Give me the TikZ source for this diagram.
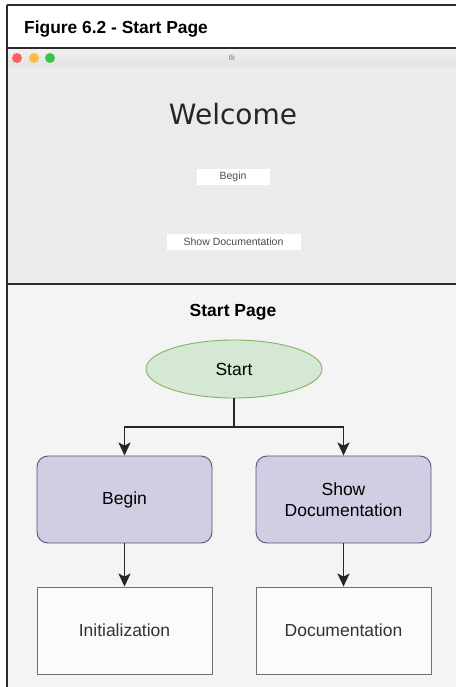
\documentclass[tikz,border=0pt]{standalone}
\usepackage{fontspec}
\setmainfont{Liberation Sans}
\newfontfamily\tkfont{DejaVu Sans}
\usetikzlibrary{shapes.geometric,arrows.meta}
\definecolor{frameline}{HTML}{2B2B2B}
\definecolor{winbg}{HTML}{EBEBEB}
\definecolor{lowbg}{HTML}{F4F4F4}
\definecolor{startfill}{HTML}{D5E8D4}
\definecolor{startdraw}{HTML}{82B366}
\definecolor{procfill}{HTML}{D0CEE2}
\definecolor{procdraw}{HTML}{56517E}
\definecolor{plaindraw}{HTML}{707070}
\tikzset{
  px/.style={x=1pt,y=-1pt},
  btn/.style={draw=white!85!gray,fill=white,line width=0.4pt,inner sep=0pt,font=\fontsize{10.5}{12}\selectfont,text=black!70},
  startnode/.style={ellipse,draw=startdraw,fill=startfill,line width=0.9pt,minimum width=176pt,minimum height=58pt,inner sep=0pt,font=\fontsize{17.5}{21}\selectfont},
  procnode/.style={rectangle,rounded corners=11pt,draw=procdraw,fill=procfill,line width=0.9pt,minimum width=175pt,minimum height=87pt,align=center,font=\fontsize{17.5}{21}\selectfont},
  plainnode/.style={rectangle,draw=plaindraw,fill=lowbg!40!white,line width=0.9pt,minimum width=175pt,minimum height=87pt,font=\fontsize{17.5}{21}\selectfont,text=black!80},
  conn/.style={line width=1.8pt,draw=black!85},
  arr/.style={conn,-{Stealth[length=13pt,width=12pt,inset=3pt]}},
  light/.style={circle,inner sep=0pt,minimum size=10pt}
}
\begin{document}
\begin{tikzpicture}[px]
\useasboundingbox (0,0) rectangle (455,687);
% backgrounds
\fill[white] (0,0) rectangle (455,687);
\fill[white] (7,5) rectangle (460,48);
% window title bar
\shade[top color=white!88!gray,bottom color=white!78!gray] (7,49) rectangle (460,67);
\fill[winbg] (7,67) rectangle (460,283);
\fill[lowbg] (7,284) rectangle (460,687);
% frame lines
\draw[frameline,line width=1.6pt] (7,5) -- (460,5);
\draw[frameline,line width=2pt] (7,48.5) -- (460,48.5);
\draw[frameline,line width=2pt] (7,283.5) -- (460,283.5);
\draw[frameline,line width=1.6pt] (7,5) -- (7,687);
% title
\node[anchor=west,inner sep=0pt,font=\bfseries\fontsize{17.4}{20}\selectfont] (title) at (24,29) {Figure 6.2 - Start Page};
% traffic lights
\node[light,fill={rgb,255:red,252;green,96;blue,92}] (red) at (17,58) {};
\node[light,fill={rgb,255:red,253;green,188;blue,64}] (yellow) at (34,58) {};
\node[light,fill={rgb,255:red,52;green,200;blue,74}] (green) at (50,58) {};
\node[font=\fontsize{8}{9}\selectfont,text=black!50] (tk) at (232,58) {tk};
% window contents
\node[font=\tkfont\fontsize{28}{31}\selectfont,text=black!85] (welcome) at (233,114) {Welcome};
\node[btn,minimum width=74pt,minimum height=17pt] (bbegin) at (233,177) {Begin};
\node[btn,minimum width=135pt,minimum height=17pt] (bdoc) at (233.5,242) {Show Documentation};
% diagram
\node[font=\bfseries\fontsize{17.5}{21}\selectfont] (sp) at (233,312) {Start Page};
\node[startnode] (start) at (234,369) {Start};
\node[procnode] (begin) at (124.5,499.5) {Begin};
\node[procnode] (show) at (343.5,499.5) {Show\\Documentation};
\node[plainnode] (init) at (124.5,630.5) {Initialization};
\node[plainnode] (doc) at (343.5,630.5) {Documentation};
\coordinate (split) at (234,427);
\draw[conn] (start.south) -- (split);
\draw[arr] (split) -| (begin.north);
\draw[arr] (split) -| (show.north);
\draw[arr] (begin.south) -- (init.north);
\draw[arr] (show.south) -- (doc.north);
\end{tikzpicture}
\end{document}
